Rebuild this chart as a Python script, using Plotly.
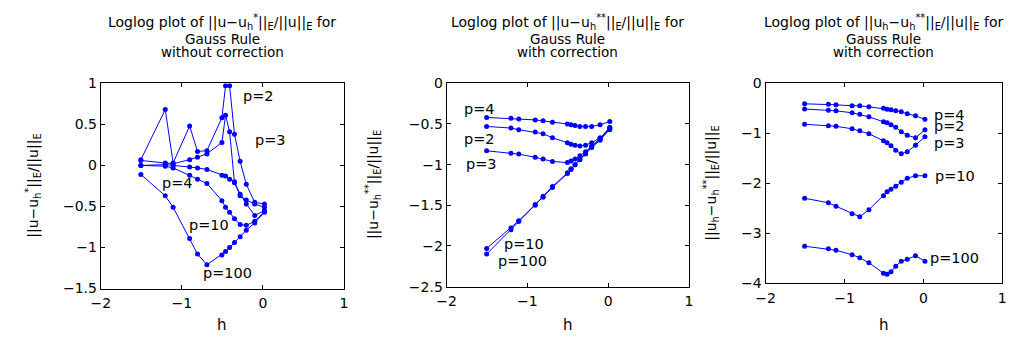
import plotly.graph_objects as go

# log10(h) values shared by all series
log_h = [-1.505, -1.204, -1.107, -0.903, -0.806, -0.69, -0.505, -0.46, -0.41, -0.35, -0.28, -0.204, -0.10, 0.02]

# Panel 1: Gauss rule without correction  log10(||u-u_h^*||_E/||u||_E)
p1_p2 = [0.07, 0.68, 0.03, 0.48, 0.17, 0.18, 0.58, 0.97, 0.97, 0.38, 0.05, -0.23, -0.45, -0.47]
p1_p3 = [0.06, 0.03, 0.02, 0.07, 0.10, 0.14, 0.28, 0.61, 0.41, -0.21, -0.37, -0.42, -0.47, -0.51]
p1_p4 = [0.00, 0.01, 0.00, -0.02, -0.03, -0.05, -0.12, -0.13, -0.17, -0.20, -0.35, -0.47, -0.61, -0.55]
p1_p10 = [0.00, -0.01, -0.03, -0.12, -0.17, -0.22, -0.43, -0.51, -0.57, -0.65, -0.72, -0.73, -0.68, -0.56]
p1_p100 = [-0.11, -0.37, -0.51, -0.89, -1.08, -1.21, -1.09, -1.05, -1.00, -0.94, -0.87, -0.79, -0.70, -0.57]

# Panel 2: with correction  log10(||u-u_h^**||_E/||u||_E)
p2_p4 = [-0.42, -0.43, -0.44, -0.45, -0.46, -0.48, -0.50, -0.51, -0.52, -0.53, -0.53, -0.53, -0.51, -0.47]
p2_p2 = [-0.53, -0.55, -0.57, -0.60, -0.62, -0.67, -0.73, -0.75, -0.76, -0.77, -0.76, -0.73, -0.67, -0.55]
p2_p3 = [-0.83, -0.86, -0.87, -0.91, -0.93, -0.96, -0.975, -0.955, -0.93, -0.89, -0.84, -0.77, -0.68, -0.54]
p2_p10 = [-2.03, -1.78, -1.69, -1.49, -1.39, -1.27, -1.10, -1.05, -1.00, -0.93, -0.86, -0.78, -0.68, -0.57]
p2_p100 = [-2.10, -1.80, -1.70, -1.50, -1.40, -1.28, -1.11, -1.06, -1.00, -0.94, -0.87, -0.79, -0.70, -0.56]

# Panel 3: with correction  log10(||u_h-u_h^**||_E/||u||_E)
p3_p4 = [-0.41, -0.42, -0.43, -0.45, -0.45, -0.47, -0.50, -0.52, -0.53, -0.55, -0.57, -0.61, -0.65, -0.72]
p3_p2 = [-0.515, -0.54, -0.55, -0.59, -0.62, -0.67, -0.77, -0.79, -0.83, -0.88, -0.97, -1.04, -1.09, -0.93]
p3_p3 = [-0.82, -0.85, -0.86, -0.91, -0.95, -1.01, -1.15, -1.19, -1.25, -1.34, -1.41, -1.37, -1.24, -1.07]
p3_p10 = [-2.30, -2.39, -2.46, -2.61, -2.67, -2.53, -2.25, -2.17, -2.12, -2.06, -1.98, -1.90, -1.85, -1.85]
p3_p100 = [-3.26, -3.31, -3.34, -3.43, -3.49, -3.59, -3.80, -3.82, -3.77, -3.66, -3.56, -3.52, -3.45, -3.56]

labels = ["p=2", "p=3", "p=4", "p=10", "p=100"]

panel_series = [
    [p1_p2, p1_p3, p1_p4, p1_p10, p1_p100],
    [p2_p2, p2_p3, p2_p4, p2_p10, p2_p100],
    [p3_p2, p3_p3, p3_p4, p3_p10, p3_p100],
]

# label centre positions (data coords) per panel, in order of labels
label_pos = [
    [(-0.053, 0.85), (0.089, 0.31), (-1.05, -0.21), (-0.66, -0.72), (-0.43, -1.31)],
    [(-1.59, -0.69), (-1.567, -0.99), (-1.59, -0.32), (-1.037, -1.98), (-1.06, -2.19)],
    [(0.333, -0.86), (0.333, -1.20), (0.333, -0.64), (0.396, -1.86), (0.40, -3.50)],
]

title_lines = [
    ["Loglog plot of ||u\u2212u<sub>h</sub><sup>*</sup>||<sub>E</sub>/||u||<sub>E</sub> for", "Gauss Rule", "without correction"],
    ["Loglog plot of ||u\u2212u<sub>h</sub><sup>**</sup>||<sub>E</sub>/||u||<sub>E</sub> for", "Gauss Rule", "with correction"],
    ["Loglog plot of ||u<sub>h</sub>\u2212u<sub>h</sub><sup>**</sup>||<sub>E</sub>/||u||<sub>E</sub> for", "Gauss Rule", "with correction"],
]
ytitles = [
    "||u\u2212u<sub>h</sub><sup>*</sup>||<sub>E</sub>/||u||<sub>E</sub>",
    "||u\u2212u<sub>h</sub><sup>**</sup>||<sub>E</sub>/||u||<sub>E</sub>",
    "||u<sub>h</sub>\u2212u<sub>h</sub><sup>**</sup>||<sub>E</sub>/||u||<sub>E</sub>",
]
y_ranges = [[-1.5, 1], [-2.5, 0], [-4, 0]]
y_dticks = [0.5, 0.5, 1]
x_range = [-2, 1]

W, H = 1026, 343
# pixel boxes: (left, right, top, bottom)
boxes = [(92, 338.5, 79, 294.3), (442.7, 688.3, 79, 292.3), (766, 1006, 79, 288.7)]
ytitle_left = [12, 357, 700]
title_line_y = [15, 32, 46]
title_sizes = [14, 13.5, 13.5]

FONT = "DejaVu Sans, Liberation Sans, Arial, sans-serif"
BLUE = "#0000ff"

fig = go.Figure()
layout = dict(
    width=W, height=H, margin=dict(l=0, r=0, t=0, b=0),
    paper_bgcolor="white", plot_bgcolor="white", showlegend=False,
    font=dict(family=FONT, size=12, color="black"),
)
annotations = []
for i in range(3):
    xa = "x" if i == 0 else f"x{i+1}"
    ya = "y" if i == 0 else f"y{i+1}"
    l, r, t, b = boxes[i]
    axis_common = dict(
        showline=True, linecolor="black", linewidth=1, mirror="ticks",
        ticks="inside", ticklen=4, tickcolor="black", showgrid=False, zeroline=False,
        tickfont=dict(family=FONT, size=14, color="black"),
    )
    layout["xaxis" if i == 0 else f"xaxis{i+1}"] = dict(
        domain=[l / W, r / W], range=x_range, dtick=1, tick0=0, anchor=ya,
        ticklabelstandoff=2, **axis_common)
    layout["yaxis" if i == 0 else f"yaxis{i+1}"] = dict(
        domain=[(H - b) / H, (H - t) / H], range=y_ranges[i], dtick=y_dticks[i], tick0=0,
        anchor=xa, **axis_common)
    for s in panel_series[i]:
        fig.add_trace(go.Scatter(
            x=log_h, y=s, mode="lines+markers", xaxis=xa, yaxis=ya,
            line=dict(color=BLUE, width=1), marker=dict(color=BLUE, size=5)))
    for lab, (lx, ly) in zip(labels, label_pos[i]):
        annotations.append(dict(x=lx, y=ly, xref=xa, yref=ya, text=lab, showarrow=False,
                                xanchor="center", yanchor="middle", borderpad=0,
                                font=dict(family=FONT, size=14.5, color="black")))
    cx = (l + r) / 2
    for j, line in enumerate(title_lines[i]):
        annotations.append(dict(x=cx / W, y=(H - title_line_y[j]) / H, xref="paper", yref="paper",
                                text=line, showarrow=False, xanchor="center", yanchor="middle",
                                borderpad=0,
                                font=dict(family=FONT, size=title_sizes[j], color="black")))
    annotations.append(dict(x=cx / W, y=(H - 333) / H, xref="paper", yref="paper", text="h",
                            showarrow=False, xanchor="center", yanchor="middle",
                            font=dict(family=FONT, size=15, color="black")))
    annotations.append(dict(x=ytitle_left[i] / W, y=(H - (t + b) / 2) / H, xref="paper", yref="paper",
                            text=ytitles[i], textangle=-90, showarrow=False,
                            xanchor="left", yanchor="middle", borderpad=0,
                            font=dict(family=FONT, size=14, color="black")))
layout["annotations"] = annotations
fig.update_layout(**layout)
fig.write_html("out.html")
